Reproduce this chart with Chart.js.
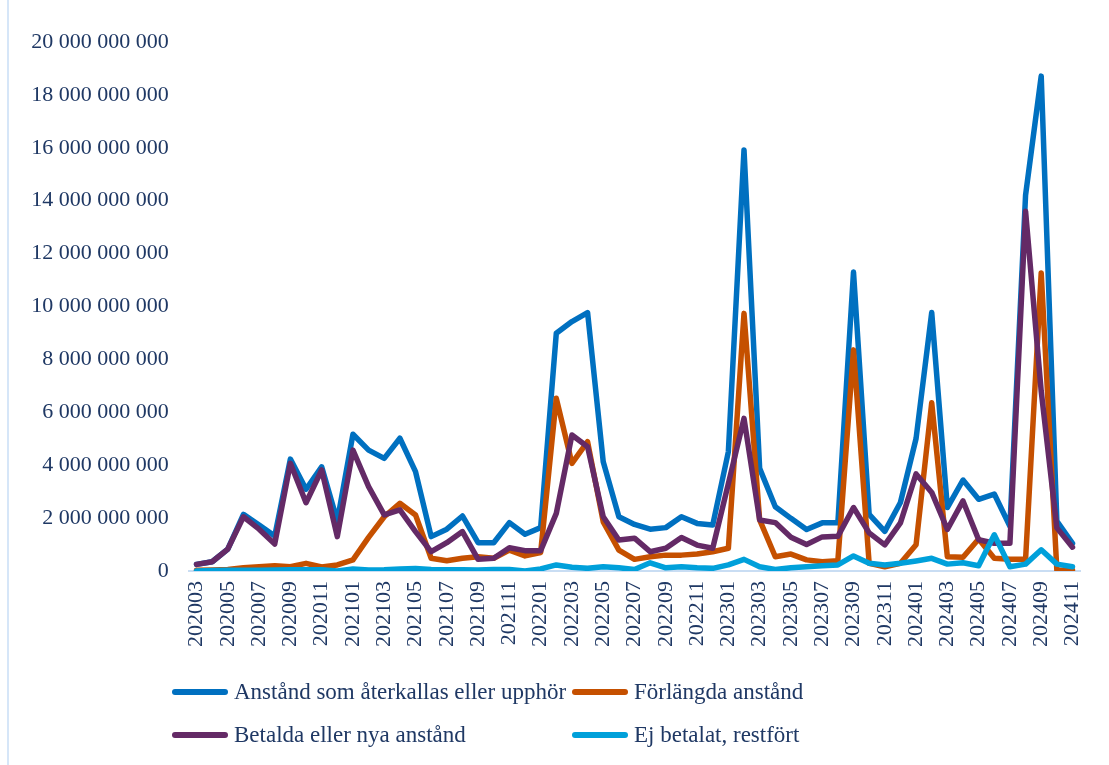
<!DOCTYPE html>
<html lang="sv">
<head>
<meta charset="utf-8">
<title>Anstånd per månad</title>
<script src="https://cdn.jsdelivr.net/npm/chart.js@4"></script>
<style>
  html, body { margin: 0; padding: 0; background: #fff; }
  #wrap { position: relative; width: 1109px; height: 765px; overflow: hidden; }
  #frame { position: absolute; left: 7px; top: 0; width: 2px; height: 765px; background: #d6e6f8; }
  #legend { position: absolute; left: 0; top: 0; width: 1109px; height: 765px; pointer-events: none;
    font-family: "Liberation Serif", "DejaVu Serif", serif; font-size: 23px; color: #1f3864; }
  .item { position: absolute; display: flex; align-items: center; white-space: nowrap; }
  .swatch { width: 56px; height: 6px; border-radius: 3px; margin-right: 6px; }
</style>
</head>
<body>
<div id="wrap">
  <canvas id="chart" width="1109" height="765"></canvas>
  <div id="frame"></div>
  <div id="legend"></div>
</div>
<script>
// Months 2020-03 .. 2024-11
const months = [
  '202003','202004','202005','202006','202007','202008','202009','202010','202011','202012',
  '202101','202102','202103','202104','202105','202106','202107','202108','202109','202110','202111','202112',
  '202201','202202','202203','202204','202205','202206','202207','202208','202209','202210','202211','202212',
  '202301','202302','202303','202304','202305','202306','202307','202308','202309','202310','202311','202312',
  '202401','202402','202403','202404','202405','202406','202407','202408','202409','202410','202411'
];

// SEK
const aterkallas = [
  0.25e9, 0.35e9, 0.83e9, 2.14e9, 1.74e9, 1.32e9, 4.23e9, 3.09e9, 3.94e9, 1.89e9,
  5.17e9, 4.57e9, 4.26e9, 5.02e9, 3.76e9, 1.30e9, 1.58e9, 2.08e9, 1.07e9, 1.07e9, 1.83e9, 1.39e9,
  1.64e9, 8.99e9, 9.43e9, 9.77e9, 4.13e9, 2.05e9, 1.76e9, 1.58e9, 1.64e9, 2.05e9, 1.80e9, 1.74e9,
  4.51e9, 15.92e9, 3.88e9, 2.43e9, 1.99e9, 1.57e9, 1.82e9, 1.82e9, 11.30e9, 2.14e9, 1.50e9, 2.59e9,
  5.01e9, 9.77e9, 2.40e9, 3.44e9, 2.71e9, 2.91e9, 1.69e9, 14.21e9, 18.71e9, 1.89e9, 1.05e9
];
const forlangda = [
  0.03e9, 0.04e9, 0.06e9, 0.12e9, 0.16e9, 0.20e9, 0.16e9, 0.29e9, 0.15e9, 0.23e9,
  0.42e9, 1.27e9, 2.05e9, 2.56e9, 2.12e9, 0.48e9, 0.39e9, 0.48e9, 0.54e9, 0.48e9, 0.79e9, 0.57e9,
  0.70e9, 6.53e9, 4.07e9, 4.89e9, 1.86e9, 0.79e9, 0.44e9, 0.54e9, 0.60e9, 0.60e9, 0.64e9, 0.73e9,
  0.86e9, 9.74e9, 1.93e9, 0.54e9, 0.64e9, 0.42e9, 0.35e9, 0.39e9, 8.36e9, 0.29e9, 0.16e9, 0.29e9,
  0.99e9, 6.36e9, 0.54e9, 0.52e9, 1.21e9, 0.48e9, 0.44e9, 0.44e9, 11.27e9, 0.03e9, 0.03e9
];
const betalda = [
  0.25e9, 0.35e9, 0.83e9, 2.05e9, 1.58e9, 1.02e9, 4.07e9, 2.58e9, 3.82e9, 1.30e9,
  4.57e9, 3.19e9, 2.12e9, 2.31e9, 1.49e9, 0.73e9, 1.07e9, 1.49e9, 0.44e9, 0.48e9, 0.88e9, 0.77e9,
  0.77e9, 2.18e9, 5.14e9, 4.70e9, 2.05e9, 1.17e9, 1.24e9, 0.73e9, 0.86e9, 1.27e9, 0.98e9, 0.86e9,
  3.30e9, 5.77e9, 1.93e9, 1.83e9, 1.28e9, 1.00e9, 1.29e9, 1.31e9, 2.40e9, 1.44e9, 0.99e9, 1.82e9,
  3.67e9, 2.97e9, 1.57e9, 2.65e9, 1.18e9, 1.05e9, 1.05e9, 13.60e9, 6.80e9, 1.63e9, 0.90e9
];
const restfort = [
  0.00e9, 0.02e9, 0.03e9, 0.03e9, 0.03e9, 0.04e9, 0.05e9, 0.05e9, 0.05e9, 0.00e9,
  0.08e9, 0.04e9, 0.05e9, 0.08e9, 0.09e9, 0.06e9, 0.05e9, 0.05e9, 0.04e9, 0.06e9, 0.06e9, 0.00e9,
  0.08e9, 0.23e9, 0.14e9, 0.10e9, 0.16e9, 0.12e9, 0.06e9, 0.31e9, 0.12e9, 0.16e9, 0.12e9, 0.10e9,
  0.23e9, 0.44e9, 0.16e9, 0.06e9, 0.12e9, 0.16e9, 0.20e9, 0.23e9, 0.57e9, 0.29e9, 0.23e9, 0.29e9,
  0.38e9, 0.48e9, 0.26e9, 0.31e9, 0.20e9, 1.37e9, 0.16e9, 0.26e9, 0.80e9, 0.26e9, 0.16e9
];

const seriesNames = [
  'Anstånd som återkallas eller upphör',
  'Förlängda anstånd',
  'Betalda eller nya anstånd',
  'Ej betalat, restfört'
];
const seriesColors = ['#0070c0', '#c55000', '#642a66', '#00a0da'];

const textColor = '#1f3864';
const fontFamily = '"Liberation Serif", "DejaVu Serif", serif';

function spaced(n) {
  return String(Math.round(n)).replace(/\B(?=(\d{3})+(?!\d))/g, ' ');
}

function makeSet(i, data) {
  return {
    label: seriesNames[i],
    data,
    borderColor: seriesColors[i],
    backgroundColor: seriesColors[i],
    borderWidth: 5.5,
    pointRadius: 0,
    tension: 0,
    borderJoinStyle: 'round',
    borderCapStyle: 'round',
    order: 4 - i, // later series on top, like the original
  };
}

const chart = new Chart(document.getElementById('chart'), {
  type: 'line',
  data: {
    labels: months,
    datasets: [
      makeSet(0, aterkallas),
      makeSet(1, forlangda),
      makeSet(2, betalda),
      makeSet(3, restfort),
    ],
  },
  options: {
    responsive: false,
    animation: false,
    layout: { padding: { left: 0, top: 42, right: 12, bottom: 0 } },
    plugins: { legend: { display: false }, tooltip: { enabled: false } },
    scales: {
      x: {
        offset: true,
        grid: { display: false, drawTicks: false },
        border: { display: true, color: '#c9ddf3', width: 2 },
        ticks: {
          autoSkip: false,
          minRotation: 90,
          maxRotation: 90,
          padding: 10,
          color: textColor,
          font: { family: fontFamily, size: 22 },
          callback: (v, i) => (i % 2 === 0 ? months[i] : ''),
        },
        afterFit: (s) => { s.height = 194; },
      },
      y: {
        min: 0,
        max: 20e9,
        grid: { display: false, drawTicks: false },
        border: { display: false },
        ticks: {
          stepSize: 2e9,
          padding: 20,
          color: textColor,
          font: { family: fontFamily, size: 22 },
          callback: (v) => spaced(v),
        },
        afterFit: (s) => { s.width = 188.7; },
      },
    },
  },
});

// Two-column legend under the plot, built from the datasets
const legendPos = [[172, 692], [572, 692], [172, 735], [572, 735]];
const legendEl = document.getElementById('legend');
chart.data.datasets.forEach((ds, i) => {
  const item = document.createElement('div');
  item.className = 'item';
  item.style.left = legendPos[i][0] + 'px';
  item.style.top = (legendPos[i][1] - 14) + 'px';
  item.style.height = '28px';
  const sw = document.createElement('span');
  sw.className = 'swatch';
  sw.style.background = ds.borderColor;
  const tx = document.createElement('span');
  tx.textContent = ds.label;
  item.appendChild(sw);
  item.appendChild(tx);
  legendEl.appendChild(item);
});
</script>
</body>
</html>
